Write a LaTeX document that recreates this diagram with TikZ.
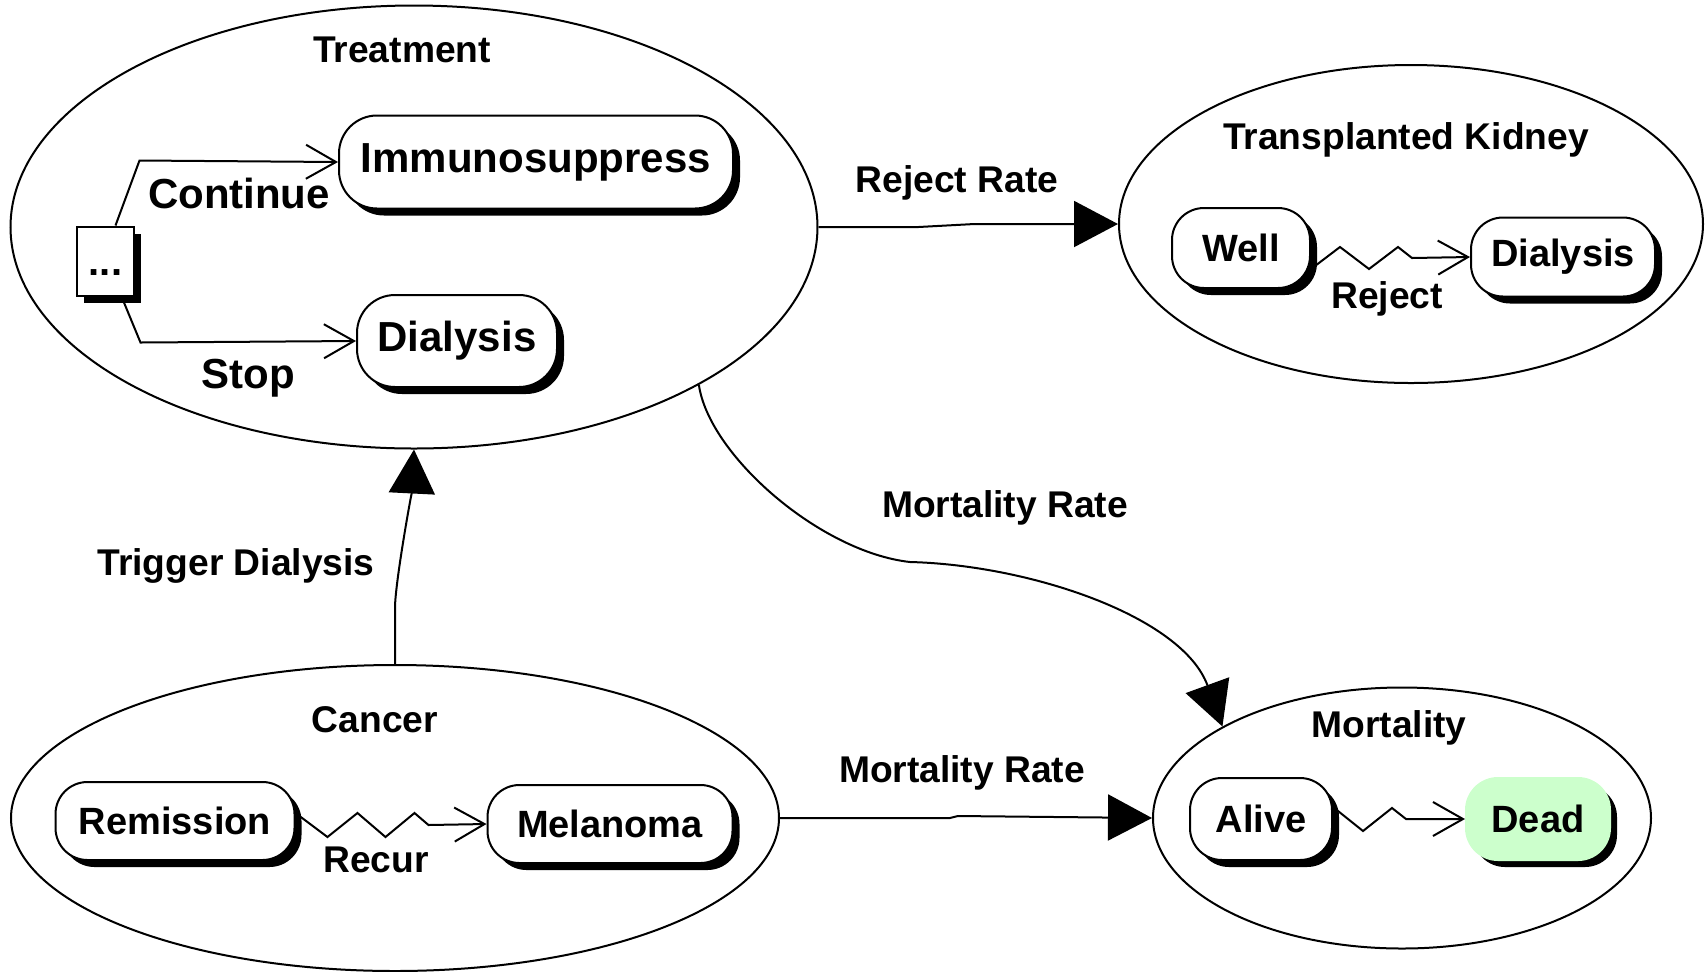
\documentclass[tikz,border=0pt]{standalone}
\usepackage{fontspec}
\setmainfont{Liberation Sans}
\usetikzlibrary{arrows.meta,shapes,shadows,positioning}
\definecolor{deadgreen}{RGB}{204,255,204}

\begin{document}
\begin{tikzpicture}[x=0.5pt,y=-0.5pt,line width=1pt,
  module/.style={draw,ellipse,inner sep=0pt},
  dropshade/.style={drop shadow={shadow xshift=3.5pt,shadow yshift=-3.5pt,fill=black,opacity=1}},
  stnode/.style={draw,fill=white,rounded corners=16pt,inner sep=0pt,dropshade,
    font=\fontsize{19}{22}\selectfont\bfseries},
  bigstnode/.style={stnode,rounded corners=19pt,font=\fontsize{21}{25}\selectfont\bfseries},
  lbl/.style={anchor=base,font=\fontsize{18.6}{22}\selectfont\bfseries},
  biglbl/.style={anchor=base,font=\fontsize{21}{25}\selectfont\bfseries},
  trans/.style={-{Straight Barb[length=15pt,width=17pt]}},
  flow/.style={-{Triangle[length=22pt,width=23pt]}}]
  \useasboundingbox (0,0) rectangle (1705,971);

  \node[module,minimum width=403.5pt,minimum height=221.5pt] (trt) at (414,227) {};
  \node[module,minimum width=292pt,minimum height=159pt] (kid) at (1411,224) {};
  \node[module,minimum width=384pt,minimum height=153pt] (can) at (395,818) {};
  \node[module,minimum width=249pt,minimum height=130.5pt] (mrt) at (1402,818) {};

  \node[lbl] (trtlbl) at (402,62) {Treatment};
  \node[lbl] (kidlbl) at (1406,149) {Transplanted Kidney};
  \node[lbl] (canlbl) at (375,732) {Cancer};
  \node[lbl] (mrtlbl) at (1389,737) {Mortality};

  \node[bigstnode,minimum width=197pt,minimum height=46.5pt] (imm) at (536,162) {Immunosuppress};
  \node[bigstnode,minimum width=100pt,minimum height=46pt] (tdi) at (457,341) {Dialysis};
  \node[draw,fill=white,inner sep=0pt,minimum width=28.5pt,minimum height=34.5pt,text height=14pt,
    dropshade,font=\fontsize{20}{24}\selectfont\bfseries] (dots) at (105.5,261) {...};
  \node[stnode,minimum width=69pt,minimum height=40pt] (wel) at (1241,248) {Well};
  \node[stnode,minimum width=92pt,minimum height=39.5pt] (kdi) at (1563,257) {Dialysis};
  \node[stnode,minimum width=119.5pt,minimum height=39pt] (rem) at (175,821) {Remission};
  \node[stnode,minimum width=122.5pt,minimum height=39pt] (mel) at (610,824) {Melanoma};
  \node[stnode,minimum width=71pt,minimum height=41pt] (alv) at (1261,819) {Alive};
  \node[stnode,draw=deadgreen,fill=deadgreen,minimum width=72pt,minimum height=41pt] (ded) at (1538,819) {Dead};

  \draw[trans] ([xshift=5pt]dots.north) -- ++(24,-65) -- (imm.west);
  \draw[trans] ([xshift=8pt]dots.south) -- ++(19,46) -- (tdi.west);
  \node[biglbl] (contlbl) at (239,208) {Continue};
  \node[biglbl] (stoplbl) at (248,388) {Stop};

  \draw[trans] ([yshift=-10.5pt]wel.east) -- ++(29,-22) -- ++(29,22) -- ++(29,-22) -- ++(14,11) -- (kdi.west);
  \node[lbl] (rejlbl) at (1387,308) {Reject};

  \draw[trans] ([yshift=4pt]rem.east) -- ++(32,24) -- ++(30,-24) -- ++(28,24) -- ++(29,-24) -- ++(14,12) -- (mel.west);
  \node[lbl] (reclbl) at (376,872) {Recur};

  \draw[trans] ([yshift=6pt]alv.east) -- ++(30,24) -- ++(29,-23) -- ++(14,11) -- (ded.west);

  \draw[flow] (trt.east) -- ++(100,0) -- ++(56,-3) -- (kid.west);
  \node[lbl] (rrlbl) at (957,192) {Reject Rate};

  \draw[flow] (can.east) -- ++(170,0) -- ++(8,-2) -- (mrt.west);
  \node[lbl] (mrlowlbl) at (962,782) {Mortality Rate};

  \draw[flow] (can.north) -- ++(0,-56) .. controls +(0,-25) and +(-2,40) .. (trt.south);
  \node[lbl] (trglbl) at (236,575) {Trigger Dialysis};

  \coordinate (bend) at (910,562);
  \draw[flow] (trt.-29) .. controls +(10,70) and +(-90,-10) .. (bend) .. controls +(120,3) and +(-40,-110) .. (mrt.153);
  \node[lbl] (mruplbl) at (1005,517) {Mortality Rate};
\end{tikzpicture}
\end{document}
